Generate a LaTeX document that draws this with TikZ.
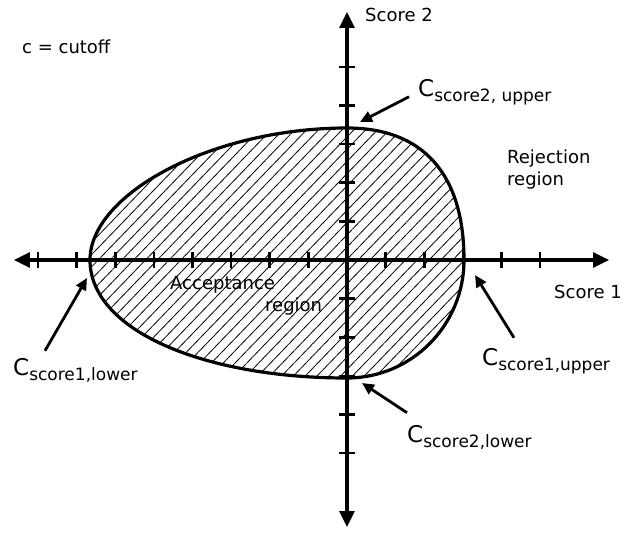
\documentclass[tikz,border=0pt]{standalone}
\usepackage{fontspec}
\setmainfont{DejaVu Sans}
\usetikzlibrary{arrows.meta,positioning,calc,patterns.meta}
\newcommand{\cutlbl}[1]{{\fontsize{23}{24}\selectfont C}\raisebox{-5pt}{\fontsize{17}{18}\selectfont #1}}

\begin{document}
\begin{tikzpicture}[x=1pt, y=1pt, axis/.style={line width=3.2pt, {Triangle[length=16pt,width=15pt]}-{Triangle[length=16pt,width=15pt]}}, tick/.style={line width=2.6pt}, lbl/.style={font=\fontsize{18}{22}\selectfont, inner sep=0pt}, pointer/.style={line width=2.8pt, -{Triangle[length=12pt,width=11pt]}}, region/.style={line width=3.2pt, pattern={Lines[angle=46,distance=8.5pt,line width=0.8pt]}}]
\useasboundingbox (-347,-273) rectangle (277,260);
% egg shaped acceptance region
\coordinate (L) at (-257,0); \coordinate (T) at (0,132); \coordinate (R) at (117,0); \coordinate (B) at (0,-118);
\draw[region] (L) .. controls (-257,66) and (-135,132) .. (T) .. controls (76,132) and (117,86) .. (R) .. controls (117,-65) and (65,-118) .. (B) .. controls (-142,-118) and (-257,-71) .. (L) -- cycle;
% axes
\coordinate (O) at (0,0);
\coordinate (xmin) at (-333,0); \coordinate (xmax) at (262,0);
\coordinate (ymin) at (0,-267); \coordinate (ymax) at (0,248);
\draw[axis] (xmin) -- (xmax);
\draw[axis] (ymin) -- (ymax);
\foreach \k in {-8,...,-1,1,2,...,5} \draw[tick] (\k*38.6,-8) -- (\k*38.6,8);
\foreach \k in {-5,...,-1,1,2,...,5} \draw[tick] (-8,\k*38.6) -- (8,\k*38.6);
% labels
\node[lbl, anchor=west] (cut) at (-325,213) {c = cutoff};
\node[lbl, right=18pt of ymax, yshift=-3pt] (s2) {Score 2};
\node[lbl, anchor=west] (s1) at (207,-32) {Score 1};
\node[lbl, anchor=west, align=left] (rej) at (160,90) {Rejection\\region};
\node[lbl, anchor=west, align=left] (acc) at (-177,-36) {Acceptance\\\hspace*{95pt}region};
\node[lbl, anchor=base west] (c2u) at (71,163) {\cutlbl{score2, upper}};
\node[lbl, anchor=base west] (c1l) at (-334,-115) {\cutlbl{score1,lower}};
\node[lbl, anchor=base west] (c1u) at (135,-105) {\cutlbl{score1,upper}};
\node[lbl, anchor=base west] (c2l) at (60,-182) {\cutlbl{score2,lower}};
% cutoff points on the boundary
\coordinate (p2u) at (13,138); \coordinate (p1l) at (-260,-18);
\coordinate (p1u) at (128,-15); \coordinate (p2l) at (15,-123);
\draw[pointer] ([shift={(-9,-4)}]c2u.west) -- (p2u);
\draw[pointer] ([shift={(32,7)}]c1l.north west) -- (p1l);
\draw[pointer] ([shift={(32,10)}]c1u.north west) -- (p1u);
\draw[pointer] ([shift={(0,12)}]c2l.north west) -- (p2l);
\end{tikzpicture}
\end{document}
